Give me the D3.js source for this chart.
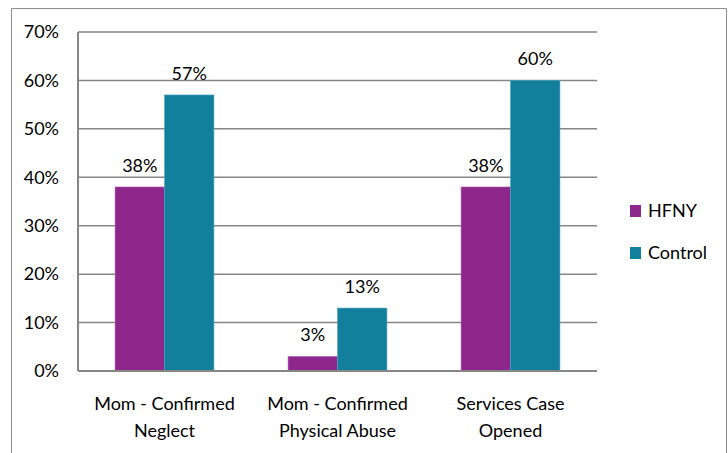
<!DOCTYPE html>
<html>
<head>
<meta charset="utf-8">
<script src="https://cdn.jsdelivr.net/npm/d3@7"></script>
<style>
  body { margin: 0; background: #fff; overflow: hidden; }
  text { font-family: Lato, "Open Sans", sans-serif; fill: #000; }
</style>
</head>
<body>
<svg id="chart" width="728" height="453"></svg>
<script>
const categories = [['Mom - Confirmed', 'Neglect'], ['Mom - Confirmed', 'Physical Abuse'], ['Services Case', 'Opened']];
const seriesNames = ['HFNY', 'Control'];
const hfny = [38, 3, 38];
const control = [57, 13, 60];
const yTicks = [0, 10, 20, 30, 40, 50, 60, 70];

const colors = ['#8e278c', '#12809c'];
const fontSize = 18;

const svg = d3.select('#chart');
const margin = { left: 78, right: 131, top: 32, bottom: 82 };
const width = 728, height = 453;
const innerWidth = width - margin.left - margin.right;
const innerHeight = height - margin.top - margin.bottom;

// outer frame (bottom edge falls outside the picture)
svg.append('path')
  .attr('d', `M11.5,${height}V8.5H726.5V${height}`)
  .attr('fill', 'none')
  .attr('stroke', '#8c8c8c')
  .attr('stroke-width', 1);

const g = svg.append('g')
  .attr('transform', `translate(${margin.left},${margin.top})`);

const xScale = d3.scaleBand()
  .domain(d3.range(categories.length))
  .range([0, innerWidth]);

const yScale = d3.scaleLinear()
  .domain([0, 70])
  .range([innerHeight, 0]);

const bw = xScale.bandwidth();
const barW = bw / (2 + 1.5);
const xSub = d3.scaleBand()
  .domain(seriesNames)
  .range([(bw - 2 * barW) / 2, (bw + 2 * barW) / 2]);

// gridlines
g.selectAll('.grid').data(yTicks.slice(1)).enter().append('line')
  .attr('class', 'grid')
  .attr('x1', 0).attr('x2', innerWidth)
  .attr('y1', d => yScale(d)).attr('y2', d => yScale(d))
  .attr('stroke', '#868686')
  .attr('stroke-width', 1.5);

// y tick labels
g.selectAll('.ytick').data(yTicks).enter().append('text')
  .attr('class', 'ytick')
  .attr('x', -19)
  .attr('y', d => yScale(d))
  .attr('dy', '0.35em')
  .attr('text-anchor', 'end')
  .style('font-size', fontSize + 'px')
  .text(d => d + '%');

const data = categories.map((c, i) => ({ i, values: [hfny[i], control[i]] }));

const groups = g.selectAll('.group').data(data).enter().append('g')
  .attr('class', 'group')
  .attr('transform', d => `translate(${xScale(d.i)},0)`);

groups.selectAll('rect').data(d => d.values.map((v, k) => ({ v, k })))
  .enter().append('rect')
  .attr('x', d => xSub(seriesNames[d.k]))
  .attr('y', d => yScale(d.v))
  .attr('width', xSub.bandwidth())
  .attr('height', d => innerHeight - yScale(d.v))
  .attr('fill', d => colors[d.k])
  .attr('stroke', d => d.k === 0 ? '#b35fb1' : '#4fa6bd')
  .attr('stroke-width', 0.6);

groups.selectAll('.vlabel').data(d => d.values.map((v, k) => ({ v, k })))
  .enter().append('text')
  .attr('class', 'vlabel')
  .attr('x', d => xSub(seriesNames[d.k]) + xSub.bandwidth() / 2)
  .attr('y', d => yScale(d.v) - 15)
  .attr('text-anchor', 'middle')
  .style('font-size', fontSize + 'px')
  .text(d => d.v + '%');

// axis lines
g.append('line')
  .attr('x1', 0).attr('x2', 0)
  .attr('y1', 0).attr('y2', innerHeight)
  .attr('stroke', '#868686').attr('stroke-width', 2);
g.append('line')
  .attr('x1', 0).attr('x2', innerWidth)
  .attr('y1', innerHeight).attr('y2', innerHeight)
  .attr('stroke', '#868686').attr('stroke-width', 2);

// category labels, two lines each
const catLabels = g.selectAll('.xlabel').data(categories).enter().append('text')
  .attr('class', 'xlabel')
  .attr('x', (d, i) => xScale(i) + bw / 2)
  .attr('y', innerHeight + 39)
  .attr('text-anchor', 'middle')
  .style('font-size', fontSize + 'px');
catLabels.selectAll('tspan').data(d => d).enter().append('tspan')
  .attr('x', function () { return this.parentNode.getAttribute('x'); })
  .attr('dy', (d, j) => j === 0 ? 0 : 27)
  .text(d => d);

// legend
const legend = svg.append('g').attr('transform', 'translate(630,205)');
const items = legend.selectAll('g').data(seriesNames).enter().append('g')
  .attr('transform', (d, i) => `translate(0,${i * 42})`);
items.append('rect')
  .attr('width', 11).attr('height', 12)
  .attr('fill', (d, i) => colors[i]);
items.append('text')
  .attr('x', 18).attr('y', 6)
  .attr('dy', '0.35em')
  .style('font-size', fontSize + 'px')
  .text(d => d);
</script>
</body>
</html>
